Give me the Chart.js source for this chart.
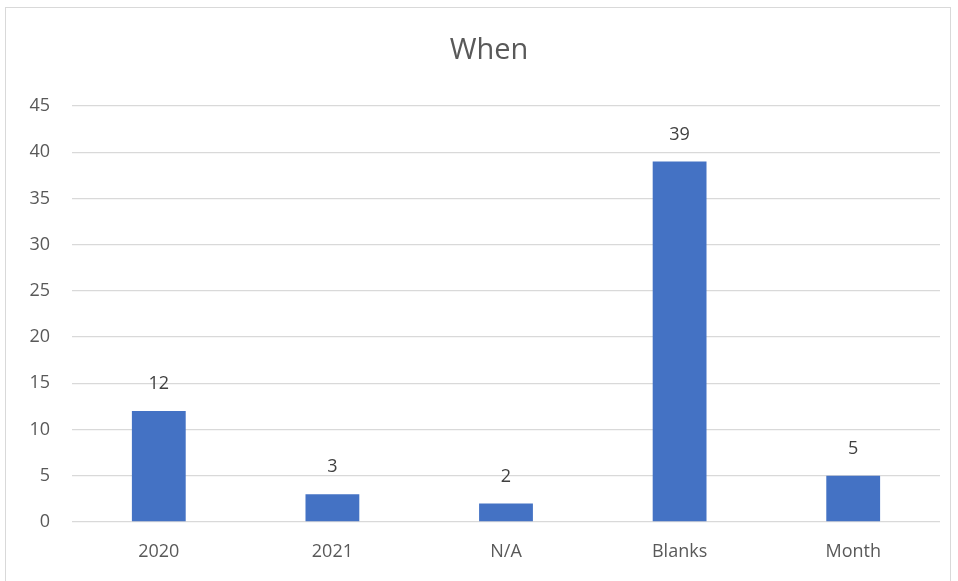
<!DOCTYPE html>
<html>
<head>
<meta charset="utf-8">
<script src="https://cdn.jsdelivr.net/npm/chart.js"></script>
<style>
    html, body { margin: 0; padding: 0; background: #fff; }
    #wrap { position: relative; width: 958px; height: 581px; }
</style>
</head>
<body>
<div id="wrap"><canvas id="whenChart" width="958" height="581"></canvas></div>
<script>
    // data
    const categories = ["2020", "2021", "N/A", "Blanks", "Month"];
    const counts = [12, 3, 2, 39, 5];
    const yTicks = [0, 5, 10, 15, 20, 25, 30, 35, 40, 45];
    const chartTitle = 'When';

    const font = "'Open Sans', 'Noto Sans', sans-serif";

    // light frame around the whole chart plus the title, like the Excel chart
    const framePlugin = {
        id: 'frame',
        beforeDraw(chart) {
            const ctx = chart.ctx;
            ctx.save();
            ctx.strokeStyle = '#d9d9d9';
            ctx.lineWidth = 1;
            ctx.strokeRect(5.5, 7.5, 945, 600);
            ctx.fillStyle = '#595959';
            ctx.font = "29px " + font;
            ctx.textAlign = 'center';
            ctx.textBaseline = 'middle';
            ctx.fillText(chartTitle, 489, 51);
            ctx.restore();
        }
    };

    // value labels above each bar
    const valueLabels = {
        id: 'valueLabels',
        afterDatasetsDraw(chart) {
            const ctx = chart.ctx;
            const meta = chart.getDatasetMeta(0);
            ctx.save();
            ctx.fillStyle = '#404040';
            ctx.font = "18px " + font;
            ctx.textAlign = 'center';
            ctx.textBaseline = 'middle';
            meta.data.forEach((bar, i) => {
                ctx.fillText(counts[i], bar.x, bar.y - 27);
            });
            ctx.restore();
        }
    };

    new Chart(document.getElementById('whenChart'), {
        type: 'bar',
        data: {
            labels: categories,
            datasets: [{
                data: counts,
                backgroundColor: '#4472c4',
                barPercentage: 0.31,
                categoryPercentage: 1
            }]
        },
        options: {
            responsive: false,
            animation: false,
            layout: { padding: { left: 0, right: 18, top: 106, bottom: 0 } },
            plugins: {
                legend: { display: false },
                tooltip: { enabled: false },
                title: { display: false }
            },
            scales: {
                x: {
                    grid: { display: false },
                    border: { display: false },
                    ticks: { color: '#595959', font: { family: font, size: 18 }, padding: 11 },
                    afterFit(scale) { scale.height = 59; }
                },
                y: {
                    min: 0,
                    max: 45,
                    afterBuildTicks(scale) { scale.ticks = yTicks.map(v => ({ value: v })); },
                    grid: { color: '#d9d9d9', lineWidth: 1.3, drawTicks: false },
                    border: { display: false },
                    ticks: { color: '#595959', font: { family: font, size: 18 }, padding: 22 },
                    afterFit(scale) { scale.width = 72; }
                }
            }
        },
        plugins: [framePlugin, valueLabels]
    });
</script>
</body>
</html>
